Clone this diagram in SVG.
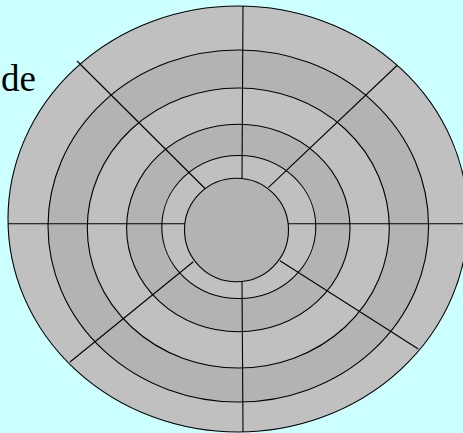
<svg xmlns="http://www.w3.org/2000/svg" width="463" height="433" viewBox="0 0 463 433">
<style>
.ring{stroke:#000;stroke-width:1.1}
.light{fill:#C0C0C0}
.dark{fill:#B3B3B3}
.spoke{stroke:#000;stroke-width:1.1;fill:none}
</style>
<rect x="0" y="0" width="463" height="433" fill="#CCFFFF"/>
<text x="36" y="91" text-anchor="end" font-family="'Liberation Serif', 'DejaVu Serif', serif" font-size="37" fill="#000">de</text>
<g id="disk">
<ellipse class="ring light" cx="238" cy="219" rx="230" ry="213"/>
<ellipse class="ring dark" cx="238.3" cy="226" rx="190.3" ry="176"/>
<ellipse class="ring light" cx="238.3" cy="228" rx="151" ry="140"/>
<ellipse class="ring dark" cx="238.3" cy="228" rx="111.7" ry="103.7"/>
<ellipse class="ring light" cx="238.8" cy="227" rx="77" ry="71.5"/>
</g>
<g id="spokes">
<line class="spoke" x1="8" y1="223.7" x2="185" y2="223.7"/>
<line class="spoke" x1="288" y1="223.7" x2="463" y2="223.7"/>
<line class="spoke" x1="243" y1="6" x2="242" y2="178.5"/>
<line class="spoke" x1="242" y1="281.5" x2="243" y2="432"/>
<line class="spoke" x1="77" y1="61" x2="205" y2="188.5"/>
<line class="spoke" x1="397" y1="65.5" x2="268.3" y2="187.7"/>
<line class="spoke" x1="70" y1="362" x2="193.3" y2="261.7"/>
<line class="spoke" x1="418.3" y1="349" x2="280" y2="260.7"/>
</g>
<g id="hub">
<ellipse class="ring dark" cx="236.5" cy="230" rx="52" ry="51.7"/>
</g>
</svg>
